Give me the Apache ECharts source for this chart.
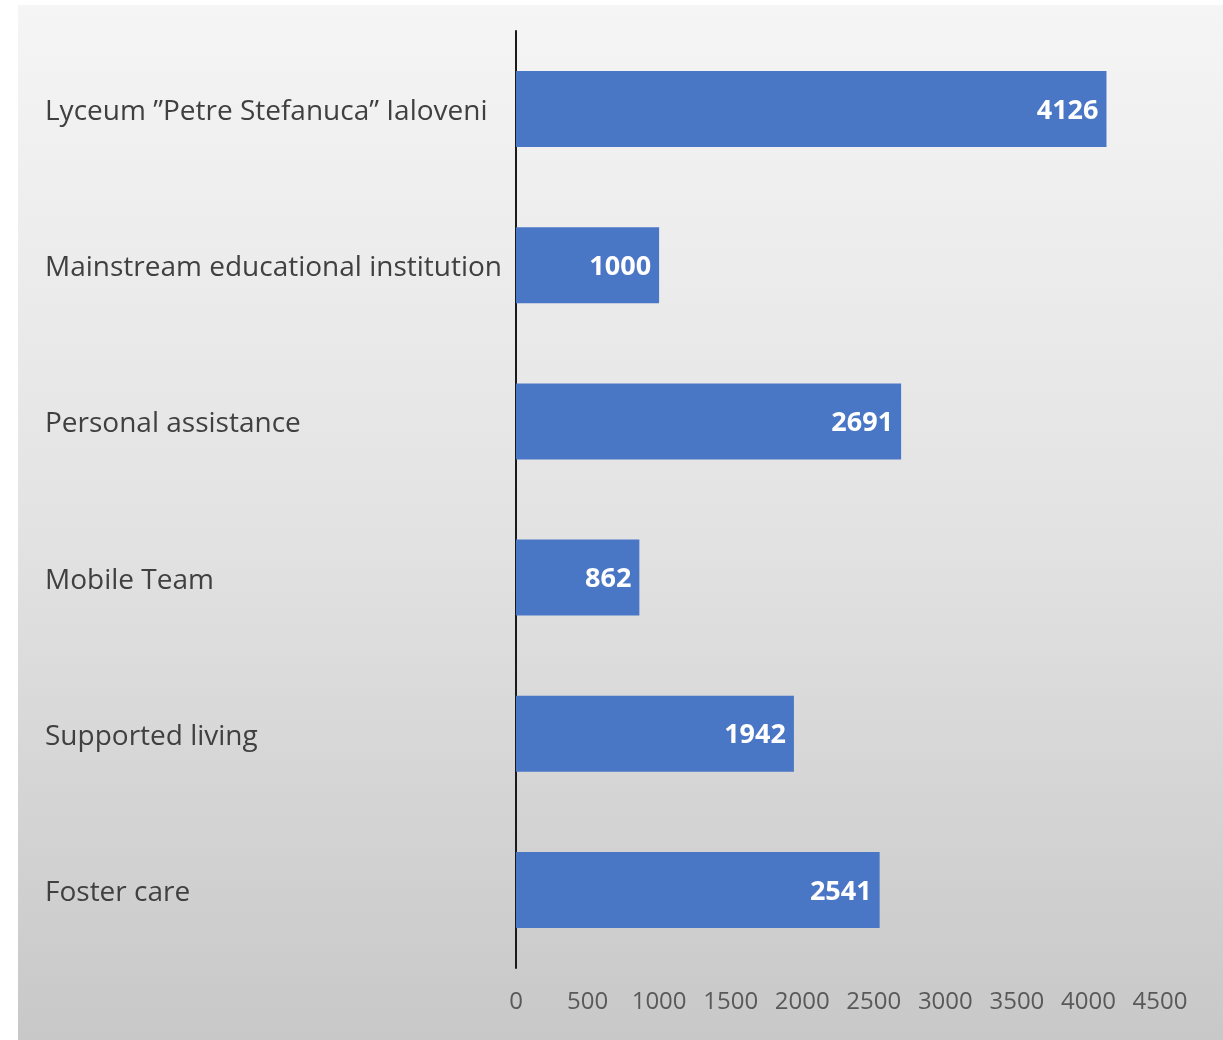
<!DOCTYPE html>
<html>
<head>
<meta charset="utf-8">
<script src="https://cdn.jsdelivr.net/npm/echarts@6/dist/echarts.min.js"></script>
<style>
  html, body { margin: 0; padding: 0; background: #ffffff; }
  #chart { width: 1223px; height: 1040px; }
</style>
</head>
<body>
<div id="chart"></div>
<script>
// categories listed bottom to top (ECharts category yAxis starts at the bottom)
const categories = [
    'Foster care',
    'Supported living',
    'Mobile Team',
    'Personal assistance',
    'Mainstream educational institution',
    'Lyceum \u201DPetre Stefanuca\u201D Ialoveni'
];
const values = [2541, 1942, 862, 2691, 1000, 4126];

const instance = echarts.init(document.getElementById('chart'), null, { renderer: 'canvas' });

const option = {
    backgroundColor: '#ffffff',
    animation: false,
    graphic: [{
        type: 'rect',
        z: -10,
        shape: { x: 18, y: 5, width: 1205, height: 1035 },
        style: {
            fill: new echarts.graphic.LinearGradient(0, 0, 0, 1, [
                { offset: 0, color: '#f5f5f5' },
                { offset: 0.5, color: '#e3e3e3' },
                { offset: 1, color: '#c8c8c8' }
            ])
        }
    }],
    grid: { left: 516, top: 31, width: 644, height: 937, containLabel: false },
    xAxis: {
        type: 'value',
        min: 0,
        max: 4500,
        interval: 500,
        axisLine: { show: false },
        axisTick: { show: false },
        splitLine: { show: false },
        axisLabel: {
            color: '#595959',
            fontFamily: 'Open Sans',
            fontSize: 24,
            margin: 22,
            formatter: function (v) { return String(v); }
        }
    },
    yAxis: {
        type: 'category',
        data: categories,
        axisLine: { show: true, lineStyle: { color: '#1a1a1a', width: 2 } },
        axisTick: { show: false },
        axisLabel: {
            align: 'left',
            margin: 471,
            formatter: function (v) { return '{c|' + v + '}'; },
            rich: {
                c: {
                    color: '#404040',
                    fontFamily: 'Open Sans',
                    fontSize: 28,
                    padding: [6, 0, 0, 0]
                }
            }
        }
    },
    series: [{
        type: 'bar',
        data: values,
        barWidth: 76,
        itemStyle: { color: '#4a76c6' },
        label: {
            show: true,
            position: 'insideRight',
            color: '#ffffff',
            fontFamily: 'Open Sans',
            fontWeight: 'bold',
            fontSize: 27,
            distance: 8,
            offset: [0, 2]
        }
    }]
};

instance.setOption(option);
</script>
</body>
</html>
